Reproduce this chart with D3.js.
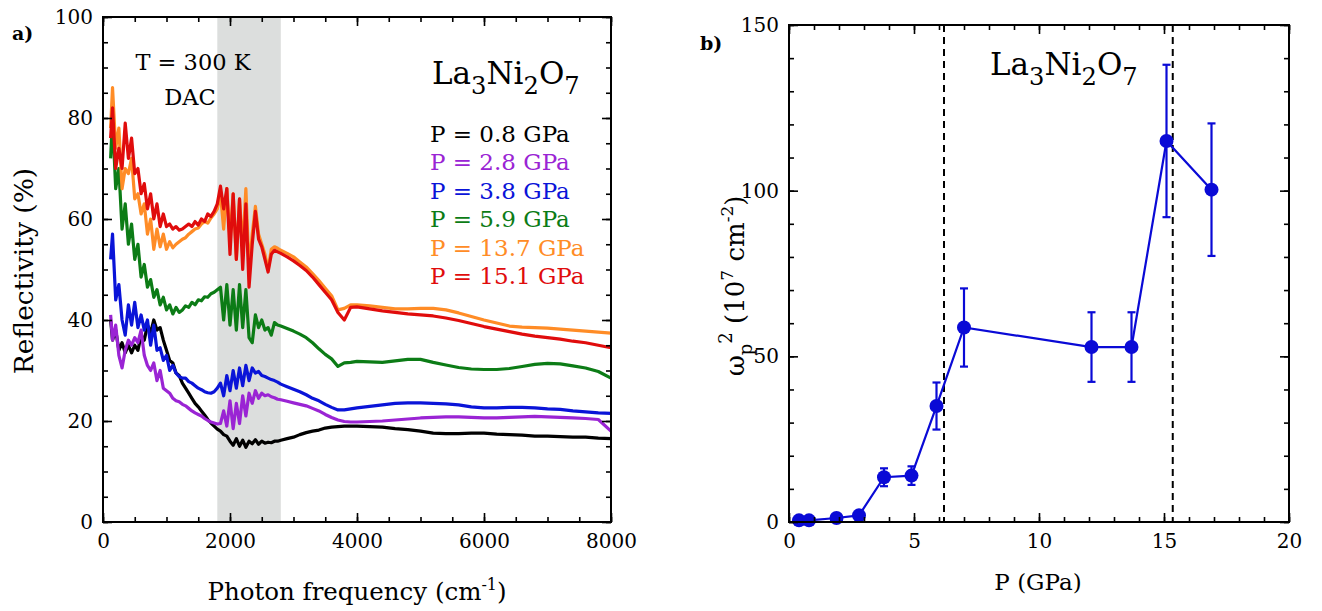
<!DOCTYPE html>
<meta charset="utf-8">
<head>
<script src="https://d3js.org/d3.v7.min.js"></script>
<style>
body { margin: 0; background: #fff; }
svg text { font-family: "DejaVu Serif", "Liberation Serif", serif; }
.tick text { font-size: 20px; fill: #000; }
.tick line { stroke: #000; stroke-width: 1.6; }
</style>
</head>
<body>
<script>
// ---- panel a) reflectivity spectra ----
const freq = [120,150,200,250,300,350,400,450,500,550,600,650,700,750,800,850,900,950,1000,1050,1100,1150,1200,1250,1300,1350,1400,1450,1500,1550,1600,1650,1700,1750,1800,
  1850,1900,1950,2000,2050,2100,2150,2200,2250,2300,2350,2400,2450,2500,2550,2600,2650,2700,2750,2800,
  2900,3000,3100,3200,3300,3400,3500,3600,3700,3800,3900,4000,
  4200,4400,4600,4800,5000,5200,5400,5600,5800,6000,6200,6400,6600,6800,7000,7200,7400,7600,7800,8000]

const refl08 = [40,36,38,34,35.5,33.5,35,33.5,35,34,37,36,39,37.5,40,38,38.5,36,34,32,31.5,29.5,29,27.5,26.5,25.5,24.5,23.5,22.8,22,21.2,20.3,19.6,19,18.4,
  18,17.3,17,16,15.2,16.5,15,16.2,14.8,16,15.5,16.3,15.4,16,15.6,15.8,15.7,16,16,16.2,
  16.5,16.8,17.3,17.7,18,18.2,18.6,18.8,18.9,19,19,19,
  18.9,18.8,18.5,18.3,18,17.6,17.5,17.5,17.6,17.6,17.4,17.3,17.2,17,17,16.9,16.8,16.8,16.6,16.5]

const refl28 = [41,36,39,33,30.5,34,36,35,36.5,35.5,38,33,31,30,31.5,28,30,26.5,26,25.5,24.5,24,23.8,23.3,23,22.5,22,21.6,21.3,21,20.5,20.1,19.8,19.6,19.4,
  19.5,22,19,24,18.5,23.5,19.5,25,21,25.5,23.5,26,24.5,25.5,25,25.2,24.8,24.6,24.3,24.2,
  23.9,23.6,23.3,23,22.5,22,21.3,20.7,20.2,19.9,19.8,19.8,
  19.9,20,20.2,20.4,20.6,20.7,20.8,20.8,20.7,20.6,20.6,20.7,20.8,20.9,20.8,20.7,20.6,20.5,20.3,18]

const refl38 = [52,57,44,47,40,37,43,39,43.5,38.5,41,38,40,35,39,34,34.5,32,33,30,31,29.5,28.8,28.5,28.5,27.8,27.5,27,26.5,26.2,25.8,25.6,25.5,25.8,26.5,
  27.5,25,29,26,30,26.5,30.5,27,31,28,30.5,29.5,29.8,29,28.8,28.5,28.2,28,27.7,27.3,
  26.8,26.3,25.8,25.2,24.5,24,23.3,22.7,22.2,22.2,22.4,22.6,
  22.9,23.2,23.5,23.6,23.6,23.5,23.4,23.2,22.8,22.6,22.6,22.7,22.7,22.6,22.4,22.3,22,21.8,21.6,21.5]

const refl59 = [72,80,66,70,58,63,55,59,52,55,48.5,51,46.5,48,44.5,46,43,44.5,42,43,41.2,42.5,41.5,42,42.8,42.5,43.5,43,44,43.8,44.6,44.5,45.2,45.5,46,
  46.5,40,47,39,46,38,47,38.5,46,36.5,35.5,41,38.5,40,38,38.5,37,39.5,39,38.8,
  38.3,37.8,37.2,36.5,35.5,34.3,33.2,32.3,30.8,31.5,31.6,31.8,
  31.7,31.6,31.9,32.2,32.2,31.6,31.1,30.6,30.3,30.2,30.2,30.4,30.8,31.2,31.4,31.3,30.9,30.5,29.8,28.5]

const refl137 = [78,86,74,78,66,70,69,72,64,65,61,63,57,60,54,58,54.5,57,54,55.5,54.3,55,55.5,56,56.3,57,57.5,58,58.2,59,59.5,59.2,60.2,61,62,
  65,58,66,56,65,52,64,54,66,50,57,62.5,57,55,53,50,54,54.5,54.2,53.8,
  53.2,52.5,51.5,50.5,49.2,47.8,46.3,44.8,42,42.3,43,43,
  42.8,42.5,42.2,42.2,42.3,42.3,42,41.4,40.7,40,39.4,38.8,38.6,38.5,38.4,38.2,38,37.8,37.6,37.4]

const refl151 = [76,82,70,74,70,79,72,76,69,70,65,67,62,65,60,63,58.5,61,58.5,59,58,58.5,57.8,58,58.5,59,58.5,59.5,58.8,60,59.5,61,60.5,61.5,63,
  66.5,62,66,53,65,52,64,50,63,46.5,55,61.5,56,54.5,52,49.5,53,53.8,53.5,53.2,
  52.5,51.7,50.8,49.8,48.5,47,45.5,44,41.5,40,42.5,42.6,
  42.2,41.8,41.5,41.2,41,40.8,40.4,39.9,39.3,38.7,38.2,37.7,37.2,36.8,36.5,36.2,35.8,35.5,35,34.5]

const pressLabels = ["P = 0.8 GPa", "P = 2.8 GPa", "P = 3.8 GPa", "P = 5.9 GPa", "P = 13.7 GPa", "P = 15.1 GPa"]
const colors = ["#000000", "#9a24d4", "#0a14d8", "#0c7c16", "#ff8c26", "#e00c0c"]
const bandRange = [1800, 2800]

// ---- panel b) plasma frequency ----
const pressure = [0.4, 0.8, 1.9, 2.8, 3.8, 4.9, 5.9, 7.0, 12.1, 13.7, 15.1, 16.9]
const wp2 = [0.5, 0.5, 1.2, 2, 13.5, 14, 35, 58.7, 52.8, 52.8, 115, 100.3]
const wp2Err = [0, 0, 0, 0, 2.7, 2.8, 7.1, 11.8, 10.5, 10.5, 23, 20]
const dashedP = [6.2, 15.35]

const W = 1322, H = 611

var svg = d3.select("body").append("svg")
  .attr("width", W)
  .attr("height", H)
  .attr("viewBox", [0, 0, W, H])
  .attr("font-family", "'DejaVu Serif', serif")

// frame with inward ticks on all four sides
function frame(g, x, y, xMaj, xMin, yMaj, yMin) {
  const [x0, x1] = x.range(), [y0, y1] = y.range()
  g.append("g").attr("transform", `translate(0,${y0})`)
    .call(d3.axisBottom(x).tickValues(xMin).tickSize(-5).tickFormat(""))
  g.append("g").attr("transform", `translate(0,${y0})`)
    .call(d3.axisBottom(x).tickValues(xMaj).tickSize(-9).tickPadding(12).tickFormat(d3.format("d")))
  g.append("g").attr("transform", `translate(0,${y1})`)
    .call(d3.axisTop(x).tickValues(xMin).tickSize(-5).tickFormat(""))
  g.append("g").attr("transform", `translate(0,${y1})`)
    .call(d3.axisTop(x).tickValues(xMaj).tickSize(-9).tickFormat(""))
  g.append("g").attr("transform", `translate(${x0},0)`)
    .call(d3.axisLeft(y).tickValues(yMin).tickSize(-5).tickFormat(""))
  g.append("g").attr("transform", `translate(${x0},0)`)
    .call(d3.axisLeft(y).tickValues(yMaj).tickSize(-9).tickPadding(10).tickFormat(d3.format("d")))
  g.append("g").attr("transform", `translate(${x1},0)`)
    .call(d3.axisRight(y).tickValues(yMin).tickSize(-5).tickFormat(""))
  g.append("g").attr("transform", `translate(${x1},0)`)
    .call(d3.axisRight(y).tickValues(yMaj).tickSize(-9).tickFormat(""))
  g.selectAll(".domain").remove()
  g.selectAll("g").attr("font-family", null)
  g.append("rect")
    .attr("x", x0).attr("y", y1)
    .attr("width", x1 - x0).attr("height", y0 - y1)
    .attr("fill", "none").attr("stroke", "#000").attr("stroke-width", 2)
}

// ================= panel a =================
const xa = d3.scaleLinear().domain([0, 8000]).range([103, 611])
const ya = d3.scaleLinear().domain([0, 100]).range([522, 17])

svg.append("rect")
  .attr("x", xa(bandRange[0])).attr("y", ya(100))
  .attr("width", xa(bandRange[1]) - xa(bandRange[0]))
  .attr("height", ya(0) - ya(100))
  .attr("fill", "#dcdedd")

const series = [refl08, refl28, refl38, refl59, refl137, refl151]
const line = d3.line().x(d => xa(d[0])).y(d => ya(d[1]))

svg.append("g")
  .selectAll("path")
  .data(series)
  .join("path")
    .attr("d", s => line(d3.zip(freq, s)))
    .attr("fill", "none")
    .attr("stroke", (s, i) => colors[i])
    .attr("stroke-width", 3.2)
    .attr("stroke-linejoin", "round")

svg.append("g").call(frame, xa, ya,
  d3.range(0, 8001, 2000), d3.range(0, 8001, 500),
  d3.range(0, 101, 20), d3.range(0, 101, 5))

svg.append("text").attr("x", 12).attr("y", 40)
  .attr("font-size", 19).attr("font-weight", "bold").text("a)")

svg.append("text").attr("x", 193).attr("y", 70).attr("text-anchor", "middle")
  .attr("font-size", 22.5).text("T = 300 K")
svg.append("text").attr("x", 190).attr("y", 105).attr("text-anchor", "middle")
  .attr("font-size", 22.5).text("DAC")

function formula(x, y, size) {
  const t = svg.append("text").attr("x", x).attr("y", y).attr("font-size", size)
  const parts = [["La", 0], ["3", 1], ["Ni", 0], ["2", 1], ["O", 0], ["7", 1]]
  let prev = 0
  parts.forEach(([s, sub]) => {
    const off = sub ? size * 0.32 : 0
    t.append("tspan").attr("dy", off - prev)
      .attr("font-size", sub ? size * 0.78 : size).text(s)
    prev = off
  })
}
formula(432, 84, 31)

svg.append("g")
  .selectAll("text")
  .data(pressLabels)
  .join("text")
    .attr("x", 430)
    .attr("y", (d, i) => 142 + i * 28.4)
    .attr("font-size", 23)
    .attr("fill", (d, i) => colors[i])
    .text(d => d)

const xlabA = svg.append("text").attr("x", 357).attr("y", 600)
  .attr("text-anchor", "middle").attr("font-size", 24.5)
xlabA.append("tspan").text("Photon frequency (cm")
xlabA.append("tspan").attr("dy", -10).attr("font-size", 16).text("-1")
xlabA.append("tspan").attr("dy", 10).text(")")

svg.append("text")
  .attr("transform", "rotate(-90)")
  .attr("x", -271).attr("y", 33)
  .attr("text-anchor", "middle").attr("font-size", 26.5)
  .text("Reflectivity (%)")

// ================= panel b =================
const xb = d3.scaleLinear().domain([0, 20]).range([789, 1289])
const yb = d3.scaleLinear().domain([0, 150]).range([522, 25])

svg.append("g")
  .selectAll("line")
  .data(dashedP)
  .join("line")
    .attr("x1", d => xb(d)).attr("x2", d => xb(d))
    .attr("y1", yb(150)).attr("y2", yb(0))
    .attr("stroke", "#000").attr("stroke-width", 2)
    .attr("stroke-dasharray", "7,5")

const pts = d3.zip(pressure, wp2, wp2Err)
const blue = "#0a0ad6"

svg.append("path")
  .attr("d", d3.line().x(d => xb(d[0])).y(d => yb(d[1]))(pts))
  .attr("fill", "none").attr("stroke", blue).attr("stroke-width", 2.2)

const eb = svg.append("g").attr("stroke", blue).attr("stroke-width", 2.2)
  .selectAll("g").data(pts.filter(d => d[2] > 0)).join("g")
eb.append("line")
  .attr("x1", d => xb(d[0])).attr("x2", d => xb(d[0]))
  .attr("y1", d => yb(d[1] - d[2])).attr("y2", d => yb(d[1] + d[2]))
eb.append("line")
  .attr("x1", d => xb(d[0]) - 4).attr("x2", d => xb(d[0]) + 4)
  .attr("y1", d => yb(d[1] + d[2])).attr("y2", d => yb(d[1] + d[2]))
eb.append("line")
  .attr("x1", d => xb(d[0]) - 4).attr("x2", d => xb(d[0]) + 4)
  .attr("y1", d => yb(d[1] - d[2])).attr("y2", d => yb(d[1] - d[2]))

svg.append("g")
  .selectAll("circle")
  .data(pts)
  .join("circle")
    .attr("cx", d => xb(d[0]))
    .attr("cy", d => yb(d[1]))
    .attr("r", 7)
    .attr("fill", blue)

svg.append("g").call(frame, xb, yb,
  d3.range(0, 21, 5), d3.range(0, 21, 1),
  d3.range(0, 151, 50), d3.range(0, 151, 10))

svg.append("text").attr("x", 700).attr("y", 50)
  .attr("font-size", 19).attr("font-weight", "bold").text("b)")

formula(990, 75, 31)

svg.append("text").attr("x", 1038).attr("y", 590)
  .attr("text-anchor", "middle").attr("font-size", 23)
  .text("P (GPa)")

const ylabB = svg.append("text")
  .attr("transform", "rotate(-90)")
  .attr("x", -286).attr("y", 744)
  .attr("text-anchor", "middle").attr("font-size", 26)
ylabB.append("tspan").text("ω")
ylabB.append("tspan").attr("dy", 8).attr("font-size", 18).text("p")
ylabB.append("tspan").attr("dy", -20).attr("font-size", 18).text("2")
ylabB.append("tspan").attr("dy", 12).text(" (10")
ylabB.append("tspan").attr("dy", -11).attr("font-size", 17).text("7")
ylabB.append("tspan").attr("dy", 11).text(" cm")
ylabB.append("tspan").attr("dy", -11).attr("font-size", 17).text("-2")
ylabB.append("tspan").attr("dy", 11).text(")")
</script>
</body>
